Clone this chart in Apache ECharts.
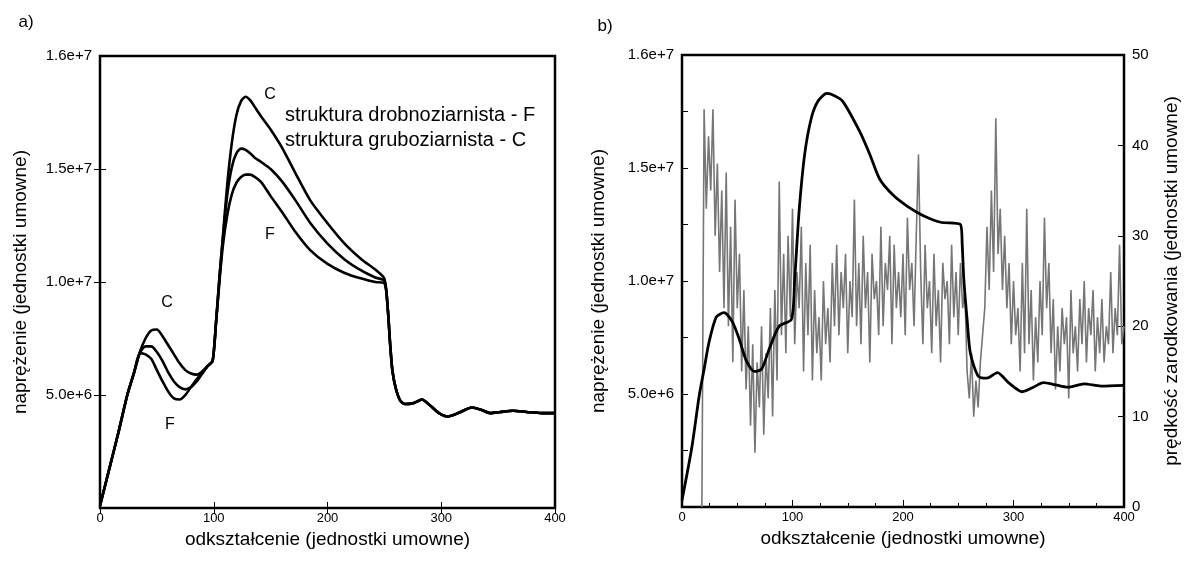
<!DOCTYPE html>
<html>
<head>
<meta charset="utf-8">
<title>naprężenie / prędkość zarodkowania</title>
<script src="https://cdn.jsdelivr.net/npm/echarts@6/dist/echarts.min.js"></script>
<style>
    html, body { margin: 0; padding: 0; background: #fff; }
    #chart { width: 1189px; height: 564px; }
</style>
</head>
<body>
<div id="chart"></div>
<script>
    // ---- dane (naprężenie w jednostkach 1e6) ----
    const strain = [0, 8, 16, 24, 30, 35, 40, 45, 50, 55, 60, 65, 70, 75, 80, 85, 90, 95, 99, 102,
        105, 108, 112, 116, 120, 124, 128, 132, 136, 142, 150, 160, 172, 185, 200, 215, 230, 242, 250, 253,
        255, 257, 260, 264, 268, 276, 283, 290, 298, 306, 315, 327, 335, 343, 352, 363, 375, 388, 400]

    // struktura gruboziarnista - C
    const stressCoarse = [0.1, 1.7, 3.3, 5.0, 6.0, 6.9, 7.5, 7.85, 7.9, 7.6, 7.2, 6.8, 6.4, 6.1, 5.95, 5.9, 6.05, 6.3, 6.5, 8.2,
        10.2, 12.0, 14.4, 16.2, 17.4, 18.0, 18.2, 18.05, 17.75, 17.3, 16.75, 15.95, 14.8, 13.6, 12.6, 11.7, 11.0, 10.55, 10.15, 8.8,
        7.3, 6.1, 5.3, 4.75, 4.6, 4.65, 4.8, 4.55, 4.2, 4.05, 4.2, 4.45, 4.35, 4.2, 4.25, 4.3, 4.25, 4.2, 4.2]
    // krzywa posrednia
    const stressMiddle = [0.1, 1.7, 3.3, 5.0, 6.0, 6.85, 7.15, 7.15, 6.9, 6.5, 6.0, 5.6, 5.35, 5.25, 5.35, 5.6, 5.95, 6.3, 6.5, 8.2,
        10.2, 11.9, 13.9, 15.1, 15.7, 15.9, 15.85, 15.7, 15.5, 15.3, 15.0, 14.45, 13.6, 12.6, 11.7, 11.0, 10.5, 10.2, 10.05, 8.8,
        7.3, 6.1, 5.3, 4.75, 4.6, 4.65, 4.8, 4.55, 4.2, 4.05, 4.2, 4.45, 4.35, 4.2, 4.25, 4.3, 4.25, 4.2, 4.2]
    // struktura drobnoziarnista - F
    const stressFine = [0.1, 1.7, 3.3, 5.0, 6.0, 6.85, 6.8, 6.6, 6.1, 5.6, 5.15, 4.85, 4.8, 5.0, 5.35, 5.7, 6.0, 6.3, 6.5, 8.2,
        10.0, 11.6, 13.0, 13.9, 14.4, 14.65, 14.75, 14.75, 14.65, 14.4, 13.8, 13.1, 12.2, 11.4, 10.8, 10.4, 10.15, 10.0, 9.95, 8.8,
        7.3, 6.1, 5.3, 4.75, 4.6, 4.65, 4.8, 4.55, 4.2, 4.05, 4.2, 4.45, 4.35, 4.2, 4.25, 4.3, 4.25, 4.2, 4.2]

    // panel b) - naprezenie
    const strainB = [0, 9, 15.5, 20, 24.5, 31, 38, 45.5, 52, 58, 65.5, 72, 79, 88, 99, 102, 106, 111, 117, 123,
        131, 138, 145.5, 161, 170, 179, 191, 204, 218, 234, 252, 253.6, 255, 258, 261, 268, 276, 285.5, 295.5, 308,
        318, 327, 338, 349, 364, 379, 400]
    const stressB = [0.3, 2.67, 4.9, 6.1, 7.3, 8.4, 8.6, 8.2, 7.4, 6.5, 6.0, 6.1, 7.0, 8.0, 8.3, 10.1, 13.1, 15.6, 17.2, 17.95,
        18.3, 18.2, 17.95, 16.6, 15.6, 14.5, 13.8, 13.3, 12.9, 12.6, 12.5, 11.6, 10.1, 8.3, 6.8, 5.8, 5.7, 5.95, 5.5, 5.1,
        5.3, 5.5, 5.4, 5.3, 5.45, 5.35, 5.38]

    // panel b) - predkosc zarodkowania, odczyt co 2 jednostki od odksztalcenia 18
    const rateStart = 18
    const rateStep = 2
    const rate = [0,
        44, 33, 41, 35, 44, 30, 38, 26, 35, 22,
        37, 20, 31, 16, 34, 22, 28, 15, 24, 13,
        20, 9, 18, 6, 16, 11, 20, 8, 17, 12,
        22, 10, 24, 14, 36, 19, 28, 17, 30, 21,
        33, 18, 26, 22, 31, 15, 27, 19, 29, 14,
        24, 17, 21, 14, 25, 18, 22, 16, 27, 20,
        29, 19, 26, 22, 28, 17, 25, 21, 34, 20,
        27, 18, 30, 22, 26, 16, 28, 23, 25, 19,
        31, 20, 27, 24, 30, 18, 29, 22, 26, 21,
        28, 19, 32, 24, 27, 20, 30, 39, 26, 18,
        29, 22, 25, 17, 28, 20, 24, 16, 27, 23,
        25, 18, 29, 21, 26, 19, 27, 22, 24, 15,
        12, 17, 10, 14, 11, 16, 19, 22, 31, 24,
        35, 26, 43, 28, 33, 24, 30, 22, 27, 18,
        25, 19, 22, 15, 27, 17, 33, 18, 24, 14,
        21, 16, 25, 19, 32, 22, 27, 17, 23, 13,
        20, 15, 22, 18, 21, 12, 24, 17, 20, 15,
        23, 18, 25, 16, 22, 19, 24, 15, 21, 17,
        23, 16, 20, 18, 26, 17, 22, 19, 29, 18,
        20]

    // opisy osi
    const stressTickValues = [5, 10, 15, 20]
    const stressTickLabels = ['5.0e+6', '1.0e+7', '1.5e+7', '1.6e+7']
    const stressMinorTicks = [2.5, 5, 7.5, 10, 12.5, 15, 17.5]
    const strainTitle = 'odkształcenie (jednostki umowne)'
    const stressTitle = 'naprężenie (jednostki umowne)'
    const rateTitle = 'prędkość zarodkowania (jednostki umowne)'

    const FONT = "'Liberation Sans', Arial, sans-serif"
    const BLACK = '#000'

    const chartInstance = echarts.init(document.getElementById('chart'), null, { renderer: 'canvas' })

    function stressLabel(v) {
        const i = stressTickValues.indexOf(v)
        return i >= 0 ? stressTickLabels[i] : ''
    }

    function xAxisOf(gridIndex, extra) {
        return Object.assign({
            gridIndex: gridIndex,
            type: 'value',
            min: 0,
            max: 400,
            interval: 100,
            position: 'bottom',
            axisLine: { show: false },
            axisTick: { inside: true, length: 6, lineStyle: { color: BLACK, width: 1 } },
            axisLabel: { margin: 4, fontSize: 13, color: BLACK, fontFamily: FONT },
            splitLine: { show: false },
            name: strainTitle,
            nameLocation: 'middle',
            nameGap: 18,
            nameTextStyle: { fontSize: 19, color: BLACK, fontFamily: FONT }
        }, extra)
    }

    function stressAxis(gridIndex, ticks, extra) {
        return Object.assign({
            gridIndex: gridIndex,
            type: 'value',
            min: 0,
            max: 20,
            position: 'left',
            axisLine: { show: false },
            axisTick: { inside: true, length: 6, customValues: ticks, lineStyle: { color: BLACK, width: 1 } },
            axisLabel: {
                customValues: stressTickValues,
                formatter: stressLabel,
                margin: 8, fontSize: 15, color: BLACK, fontFamily: FONT
            },
            splitLine: { show: false }
        }, extra)
    }

    function textAt(x, y, text, size, align) {
        return {
            type: 'text',
            x: x,
            y: y,
            style: {
                text: text,
                font: size + 'px ' + FONT,
                fill: BLACK,
                align: align || 'center',
                textAlign: align || 'center',
                verticalAlign: 'middle',
                textVerticalAlign: 'middle'
            }
        }
    }

    const option = {
        animation: false,
        backgroundColor: '#fff',
        grid: [
            { left: 100, top: 56, width: 455, height: 452, show: true, borderColor: BLACK, borderWidth: 2.5 },
            { left: 682, top: 55, width: 442, height: 452, show: true, borderColor: BLACK, borderWidth: 2.5 }
        ],
        xAxis: [
            xAxisOf(0),
            // lustrzane znaczniki u gory panelu a)
            xAxisOf(0, { position: 'top', axisLabel: { show: false }, name: '' }),
            xAxisOf(1, {
                axisTick: { inside: true, length: 7, lineStyle: { color: BLACK, width: 1 } },
                minorTick: { show: true, splitNumber: 4, length: 4, lineStyle: { color: BLACK, width: 1 } }
            })
        ],
        yAxis: [
            stressAxis(0, [5, 10, 15], {
                name: stressTitle,
                nameLocation: 'middle',
                nameRotate: 90,
                nameGap: 70,
                nameTextStyle: { fontSize: 19, color: BLACK, fontFamily: FONT }
            }),
            stressAxis(0, [5, 10, 15], { position: 'right', axisLabel: { show: false } }),
            stressAxis(1, stressMinorTicks, {
                name: stressTitle,
                nameLocation: 'middle',
                nameRotate: 90,
                nameGap: 74,
                nameTextStyle: { fontSize: 19, color: BLACK, fontFamily: FONT }
            }),
            {
                gridIndex: 1,
                type: 'value',
                min: 0,
                max: 50,
                interval: 10,
                position: 'right',
                axisLine: { show: false },
                axisTick: { inside: true, length: 6, lineStyle: { color: BLACK, width: 1 } },
                axisLabel: { margin: 8, fontSize: 15, color: BLACK, fontFamily: FONT },
                splitLine: { show: false },
                name: rateTitle,
                nameLocation: 'middle',
                nameRotate: 90,
                nameGap: 38,
                nameTextStyle: { fontSize: 19, color: BLACK, fontFamily: FONT }
            }
        ],
        series: [
            {
                name: 'C', type: 'line', xAxisIndex: 0, yAxisIndex: 0,
                data: strain.map((x, i) => [x, stressCoarse[i]]),
                showSymbol: false, smooth: 0.25,
                lineStyle: { color: BLACK, width: 2.6 }
            },
            {
                name: 'M', type: 'line', xAxisIndex: 0, yAxisIndex: 0,
                data: strain.map((x, i) => [x, stressMiddle[i]]),
                showSymbol: false, smooth: 0.25,
                lineStyle: { color: BLACK, width: 2.6 }
            },
            {
                name: 'F', type: 'line', xAxisIndex: 0, yAxisIndex: 0,
                data: strain.map((x, i) => [x, stressFine[i]]),
                showSymbol: false, smooth: 0.25,
                lineStyle: { color: BLACK, width: 2.6 }
            },
            {
                name: 'rate', type: 'line', xAxisIndex: 2, yAxisIndex: 3,
                data: rate.map((v, i) => [rateStart + i * rateStep, v]),
                showSymbol: false,
                lineStyle: { color: '#767676', width: 1.6 }
            },
            {
                name: 'stressB', type: 'line', xAxisIndex: 2, yAxisIndex: 2,
                data: strainB.map((x, i) => [x, stressB[i]]),
                showSymbol: false, smooth: 0.25,
                lineStyle: { color: BLACK, width: 2.8 }
            }
        ],
        graphic: [
            textAt(26, 22, 'a)', 17),
            textAt(605, 26, 'b)', 17),
            textAt(270, 95, 'C', 16),
            textAt(285, 115, 'struktura drobnoziarnista - F', 20, 'left'),
            textAt(285, 140, 'struktura gruboziarnista - C', 20, 'left'),
            textAt(270, 235, 'F', 16),
            textAt(167, 303, 'C', 16),
            textAt(170, 425, 'F', 16)
        ]
    }

    chartInstance.setOption(option)
</script>
</body>
</html>
